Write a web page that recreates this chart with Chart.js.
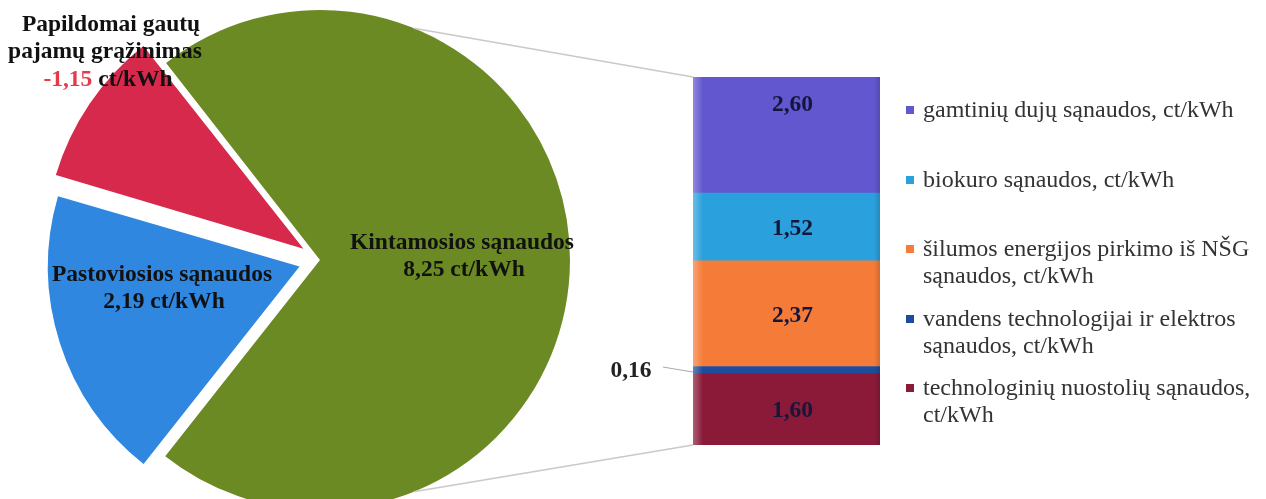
<!DOCTYPE html>
<html>
<head>
<meta charset="utf-8">
<script src="https://cdn.jsdelivr.net/npm/chart.js@4.4.0/dist/chart.umd.min.js"></script>
<style>
    html, body { margin: 0; padding: 0; background: #fff; overflow: hidden; }
    #wrap { position: relative; width: 1266px; height: 499px; }
    #pieCanvas, #barCanvas { position: absolute; left: 0; top: 0; }
    #legend {
        position: absolute; left: 904px; top: 96px;
        font-family: "Liberation Serif", "DejaVu Serif", serif;
        font-size: 24px; color: #333;
    }
    .item { position: relative; height: 69.5px; padding-left: 19px; line-height: 27px; white-space: nowrap; }
    .item .sw { position: absolute; left: 2px; top: 10px; width: 8px; height: 8px; }
</style>
</head>
<body>
<div id="wrap">
    <canvas id="pieCanvas" width="700" height="499"></canvas>
    <canvas id="barCanvas" width="1266" height="499"></canvas>
    <div id="legend"></div>
</div>
<script>
// ---- data ----
const pieNames = [
    ['Kintamosios sąnaudos'],
    ['Pastoviosios sąnaudos'],
    ['Papildomai gautų', 'pajamų grąžinimas']
];
const pieValues = [8.25, 2.19, 1.15];   // last one is the (negative) return, shown as -1,15
const pieColors = ['#6b8a24', '#2f87e0', '#d6294c'];

const barNames = [
    ['gamtinių dujų sąnaudos, ct/kWh'],
    ['biokuro sąnaudos, ct/kWh'],
    ['šilumos energijos pirkimo iš NŠG', 'sąnaudos, ct/kWh'],
    ['vandens technologijai ir elektros', 'sąnaudos, ct/kWh'],
    ['technologinių nuostolių sąnaudos,', 'ct/kWh']
];
const barValues = [2.60, 1.52, 2.37, 0.16, 1.60];   // top to bottom
const barColors = ['#6257cf', '#2aa0dc', '#f57c38', '#1e4c9c', '#8a1a38'];

const fmt = v => v.toFixed(2).replace('.', ',');
const serifBold = 'bold 23.5px "Liberation Serif", "DejaVu Serif", serif';

// ==========================================================================
// Pie (exploded) on the left
// ==========================================================================
const pieLabelPlugin = {
    id: 'pieLabels',
    afterDraw(chart) {
        const ctx = chart.ctx;
        const arc = chart.getDatasetMeta(0).data[0];
        const cx = arc.x, cy = arc.y;
        ctx.save();
        ctx.font = serifBold;
        ctx.textAlign = 'center';
        ctx.textBaseline = 'middle';
        ctx.fillStyle = '#111';

        // Kintamosios
        ctx.fillText(pieNames[0][0], cx + 142, cy - 17);
        ctx.fillText(fmt(pieValues[0]) + ' ct/kWh', cx + 144, cy + 10);

        // Pastoviosios
        ctx.fillText(pieNames[1][0], cx - 158, cy + 15);
        ctx.fillText(fmt(pieValues[1]) + ' ct/kWh', cx - 156, cy + 42);

        // Papildomai gautu pajamu grazinimas, value in red
        ctx.fillText(pieNames[2][0], cx - 209, cy - 235);
        ctx.fillText(pieNames[2][1], cx - 215, cy - 208);
        const neg = '-' + fmt(pieValues[2]);
        const unit = ' ct/kWh';
        const w1 = ctx.measureText(neg).width;
        const w2 = ctx.measureText(unit).width;
        const x0 = cx - 212 - (w1 + w2) / 2;
        ctx.textAlign = 'left';
        ctx.fillStyle = '#e8384a';
        ctx.fillText(neg, x0, cy - 180);
        ctx.fillStyle = '#111';
        ctx.fillText(unit, x0 + w1, cy - 180);
        ctx.restore();
    }
};

const pieChart = new Chart(document.getElementById('pieCanvas'), {
    type: 'pie',
    data: {
        labels: pieNames.map(n => n.join(' ')),
        datasets: [{
            data: pieValues,
            backgroundColor: pieColors,
            borderWidth: 0,
            offset: [0, 86, 80],
            hoverOffset: 0,
            clip: false
        }]
    },
    options: {
        responsive: false,
        animation: false,
        rotation: -38,
        radius: 250,
        layout: { padding: { left: 0, right: 60, top: 21, bottom: 0 } },
        plugins: { legend: { display: false }, tooltip: { enabled: false } },
        events: []
    },
    plugins: [pieLabelPlugin]
});

// ==========================================================================
// Stacked bar on the right + connector lines
// ==========================================================================
const barPlugin = {
    id: 'barExtras',
    afterDatasetsDraw(chart) {
        // thin light strip on the left of the bar, darker on the right (bevel look)
        const area = chart.chartArea;
        const ctx = chart.ctx;
        ctx.save();
        const g = ctx.createLinearGradient(area.left, 0, area.left + 10, 0);
        g.addColorStop(0, 'rgba(255,255,255,0.30)');
        g.addColorStop(1, 'rgba(255,255,255,0)');
        ctx.fillStyle = g;
        ctx.fillRect(area.left, area.top, 10, area.bottom - area.top);
        const g2 = ctx.createLinearGradient(area.right - 6, 0, area.right, 0);
        g2.addColorStop(0, 'rgba(0,0,0,0)');
        g2.addColorStop(1, 'rgba(0,0,0,0.15)');
        ctx.fillStyle = g2;
        ctx.fillRect(area.right - 6, area.top, 6, area.bottom - area.top);
        ctx.restore();
    },
    afterDraw(chart) {
        const ctx = chart.ctx;
        const n = chart.data.datasets.length;
        const bottomEl = chart.getDatasetMeta(0).data[0];
        const topEl = chart.getDatasetMeta(n - 1).data[0];
        const left = bottomEl.x - bottomEl.width / 2;
        const barTop = topEl.y;
        const barBottom = bottomEl.base;

        // connector lines from the pie edge to the bar corners
        const arc = pieChart.getDatasetMeta(0).data[0];
        const r = arc.outerRadius;
        const a = 22 * Math.PI / 180;
        ctx.save();
        ctx.strokeStyle = '#c9c9c9';
        ctx.lineWidth = 1.5;
        ctx.beginPath();
        ctx.moveTo(arc.x + r * Math.sin(a), arc.y - r * Math.cos(a));
        ctx.lineTo(left, barTop);
        ctx.moveTo(arc.x + r * Math.sin(a), arc.y + r * Math.cos(a));
        ctx.lineTo(left, barBottom);
        ctx.stroke();

        // value labels
        ctx.font = serifBold;
        ctx.textBaseline = 'middle';
        ctx.textAlign = 'center';
        chart.data.datasets.forEach((ds, i) => {
            const el = chart.getDatasetMeta(i).data[0];
            const top = el.y, bot = el.base;
            const h = bot - top;
            let y = (top + bot) / 2 + 2;
            if (i === n - 1) y = top + 28;
            const txt = fmt(ds.data[0]);
            if (h < 15) {
                // too thin: label outside with a leader line
                ctx.fillStyle = '#222';
                ctx.fillText(txt, left - 62, y - 1);
                ctx.strokeStyle = '#aaa';
                ctx.lineWidth = 1;
                ctx.beginPath();
                ctx.moveTo(left - 30, y - 5);
                ctx.lineTo(left, y);
                ctx.stroke();
            } else {
                ctx.fillStyle = '#16163a';
                ctx.fillText(txt, el.x + 6, y);
            }
        });
        ctx.restore();
    }
};

// datasets stack from the bottom, so build them in reverse order
const barDatasets = barValues.map((v, i) => ({
    label: barNames[i].join(' '),
    data: [v],
    backgroundColor: barColors[i],
    borderWidth: 0,
    barPercentage: 1.0,
    categoryPercentage: 1.0
})).reverse();

const barChart = new Chart(document.getElementById('barCanvas'), {
    type: 'bar',
    data: { labels: [''], datasets: barDatasets },
    options: {
        responsive: false,
        animation: false,
        layout: { padding: { left: 693, right: 386, top: 77, bottom: 54 } },
        scales: {
            x: { stacked: true, display: false },
            y: { stacked: true, display: false, min: 0, max: barValues.reduce((s, v) => s + v, 0) }
        },
        plugins: { legend: { display: false }, tooltip: { enabled: false } },
        events: []
    },
    plugins: [barPlugin]
});

// ---- legend (top to bottom, same order as the bar) ----
const legend = document.getElementById('legend');
barNames.forEach((lines, i) => {
    const item = document.createElement('div');
    item.className = 'item';
    item.innerHTML = '<span class="sw" style="background:' + barColors[i] + '"></span>' + lines.join('<br>');
    legend.appendChild(item);
});
</script>
</body>
</html>
